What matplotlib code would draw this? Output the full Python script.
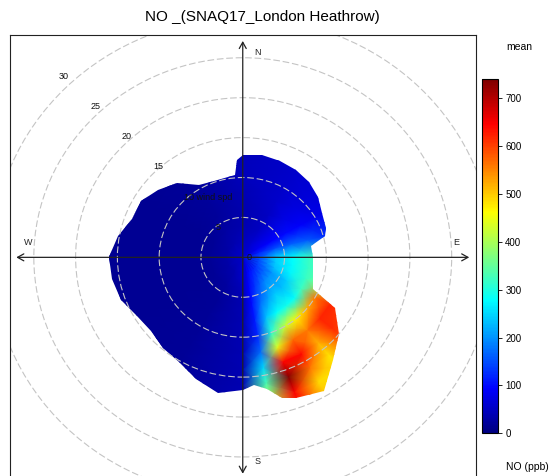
import numpy as np
import matplotlib.pyplot as plt
from matplotlib.colors import LinearSegmentedColormap
from matplotlib.patches import Circle, Polygon

plt.rcParams['font.family'] = ['Liberation Sans', 'DejaVu Sans']

# mean NO (ppb) by wind direction (rows, degrees) and wind speed (columns)
wind_dir = [0, 30, 60, 75, 90, 100, 110, 120, 130, 140, 150, 160, 170, 180,
            210, 240, 270, 300, 330]
wind_spd = [0, 2, 4, 6, 8, 10, 12, 14, 16, 18, 20]
no_mean = [
    [55, 45, 35, 35, 40, 45, 45, 45, 45, 45, 45],
    [55, 60, 50, 50, 55, 55, 55, 55, 55, 55, 55],
    [55, 85, 95, 100, 90, 80, 75, 75, 75, 75, 75],
    [55, 120, 155, 170, 160, 130, 130, 130, 130, 130, 130],
    [55, 150, 245, 280, 320, 330, 330, 330, 330, 330, 330],
    [55, 150, 240, 275, 320, 330, 330, 330, 330, 330, 330],
    [55, 145, 230, 270, 320, 380, 550, 550, 550, 550, 550],
    [55, 140, 200, 240, 320, 560, 620, 600, 580, 580, 580],
    [55, 130, 200, 230, 280, 520, 620, 615, 590, 590, 590],
    [55, 120, 190, 240, 290, 470, 560, 520, 480, 480, 480],
    [55, 110, 160, 210, 280, 420, 575, 640, 565, 490, 505],
    [55, 100, 130, 170, 230, 310, 440, 650, 735, 650, 620],
    [55, 70, 90, 100, 110, 120, 170, 250, 330, 400, 400],
    [55, 55, 45, 40, 40, 40, 40, 40, 40, 40, 40],
    [55, 35, 25, 20, 20, 20, 20, 20, 20, 20, 20],
    [55, 30, 20, 15, 15, 15, 15, 15, 15, 15, 15],
    [55, 30, 20, 15, 15, 15, 15, 15, 15, 15, 15],
    [55, 30, 20, 15, 15, 15, 15, 15, 15, 15, 15],
    [55, 35, 28, 22, 22, 22, 22, 22, 22, 22, 22],
]

# outer edge of the surface (highest wind speed with data) per direction
edge_dir = [0, 10, 20, 30, 40, 50, 60, 70, 75, 80, 90, 100, 110, 115, 120,
            130, 140, 150, 160, 165, 170, 175, 180, 190, 200, 210, 220, 230,
            240, 250, 260, 270, 280, 290, 300, 310, 320, 330, 340, 350, 355,
            357]
edge_spd = [12.85, 13.0, 12.9, 12.7, 12.4, 11.7, 11.0, 10.6, 10.2, 8.3, 8.4,
            8.5, 8.9, 9.3, 12.7, 15.0, 16.8, 19.4, 18.8, 18.3, 16.8, 16.1,
            16.6, 17.2, 16.2, 15.2, 14.9, 14.4, 14.6, 15.5, 15.9, 16.0, 15.2,
            14.1, 14.0, 13.2, 12.2, 10.4, 10.2, 10.2, 10.4, 12.2]

ring_spd = [5, 10, 15, 20, 25, 30]
ring_labels = ['0', '5', '10 wind spd', '15', '20', '25', '30']
compass = ['N', 'E', 'S', 'W']

cmap = LinearSegmentedColormap.from_list(
    'jet9', ['#00007F', '#0000FF', '#007FFF', '#00FFFF', '#7FFF7F',
             '#FFFF00', '#FF7F00', '#FF0000', '#7F0000'])

fig = plt.figure(figsize=(5.49, 4.76), dpi=100)
ax = fig.add_axes([10 / 549, -0.0078, 465.5 / 549, 0.9343])
lim = 27.85
ax.set_xlim(-lim, lim)
ax.set_ylim(-lim, lim)
ax.set_xticks([])
ax.set_yticks([])
for sp in ax.spines.values():
    sp.set_linewidth(0.8)
    sp.set_color('#222222')

# surface on a polar mesh, closed round to 360 degrees
dirs = np.radians(np.append(wind_dir, 360))
spd = np.array(wind_spd, dtype=float)
D, S = np.meshgrid(dirs, spd, indexing='ij')
X = S * np.sin(D)
Y = S * np.cos(D)
C = np.array(no_mean + [no_mean[0]], dtype=float)
mesh = ax.pcolormesh(X, Y, C, shading='gouraud', cmap=cmap, vmin=0, vmax=740,
                     zorder=1)

ed = np.radians(edge_dir)
es = np.array(edge_spd)
outline = Polygon(np.column_stack([es * np.sin(ed), es * np.cos(ed)]),
                  closed=True, transform=ax.transData)
mesh.set_clip_path(outline)

# wind speed rings and their labels
for r in ring_spd:
    ax.add_patch(Circle((0, 0), r, fill=False, ec='#C4C4C4', lw=0.8,
                        ls=(0, (6, 2.5)), zorder=2))
for r, lab in zip([0] + ring_spd, ring_labels):
    ax.text(-0.75 * r + 0.5, 0.755 * r, lab, ha='left', va='center',
            fontsize=6.5, color='#111111', zorder=4)

# compass axes
arrow_len = 27.1
head = dict(arrowstyle='<->,head_length=0.45,head_width=0.25', lw=0.9,
            color='#222222', shrinkA=0, shrinkB=0)
ax.annotate('', xy=(arrow_len, 0), xytext=(-arrow_len, 0), arrowprops=head,
            zorder=3)
ax.annotate('', xy=(0, arrow_len), xytext=(0, -arrow_len), arrowprops=head,
            zorder=3)
for lab, (x, y) in zip(compass, [(1.8, 25.6), (25.6, 1.8), (1.8, -25.6),
                                 (-25.7, 1.8)]):
    ax.text(x, y, lab, ha='center', va='center', fontsize=6.5,
            color='#222222', zorder=4)

# colour key
cax = fig.add_axes([481.7 / 549, 0.0897, 16.6 / 549, 0.7437])
cb = fig.colorbar(mesh, cax=cax, ticks=range(0, 701, 100))
cb.outline.set_linewidth(0.8)
cax.tick_params(labelsize=7, length=3, width=0.6, pad=2)
fig.text(506 / 549, 1 - 46.7 / 476, 'mean', ha='left', va='center',
         fontsize=7.5)
fig.text(506 / 549, 1 - 466.7 / 476, 'NO (ppb)', ha='left', va='center',
         fontsize=7.5)

fig.text(262 / 549, 1 - 17 / 476, 'NO _(SNAQ17_London Heathrow)',
         ha='center', va='center', fontsize=11)

fig.savefig('out.png', dpi=100)
